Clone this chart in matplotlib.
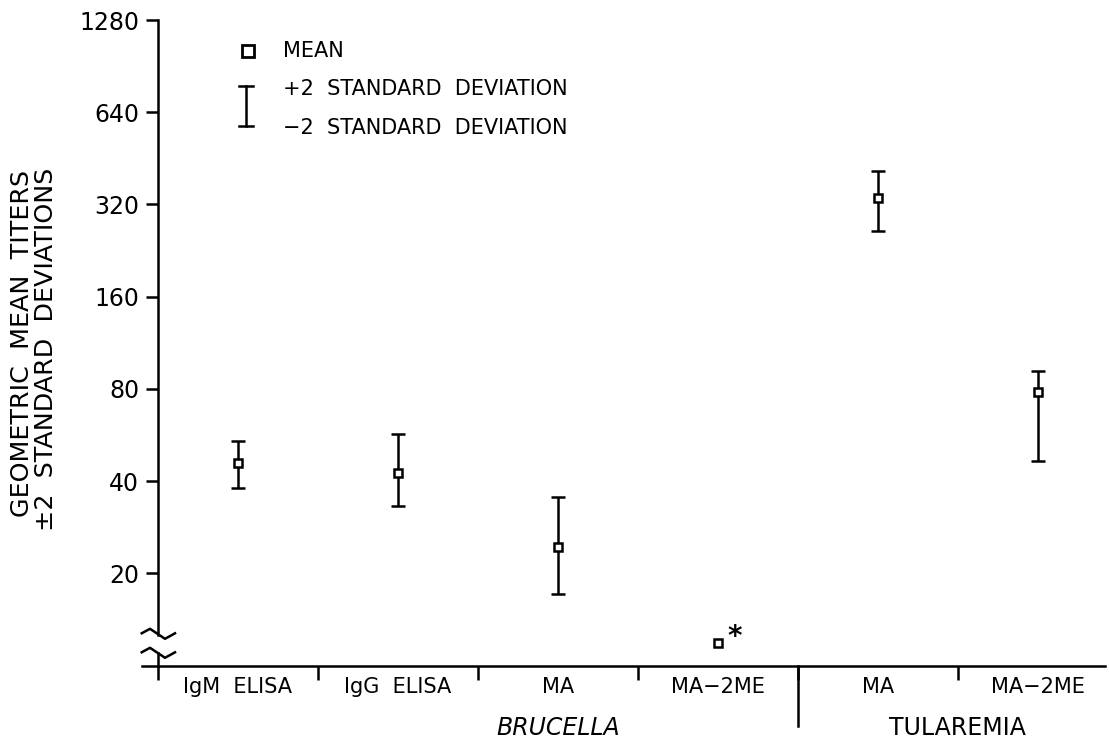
import numpy as np
import matplotlib
matplotlib.use("Agg")
import matplotlib.pyplot as plt
import matplotlib.transforms as mtransforms
from matplotlib.lines import Line2D

# данные (титры, логарифмическая шкала по основанию 2)
categories = ["IgM  ELISA", "IgG  ELISA", "MA", "MA\u22122ME", "MA", "MA\u22122ME"]
means = [45.9, 42.7, 24.4, 11.9, 335.7, 78.0]
upper = [54.2, 57.0, 35.5, np.nan, 413.0, 91.4]
lower = [38.0, 33.1, 17.1, np.nan, 262.6, 46.5]
yticks = [20, 40, 80, 160, 320, 640, 1280]
groups = ["BRUCELLA", "TULAREMIA"]
group_pos = [2.0, 4.5]

W, H = 1109, 742
LW = 1.8
fig = plt.figure(figsize=(W / 100, H / 100), dpi=100)
ax = fig.add_axes([141.7 / W, 1 - 665.7 / H, (1105 - 141.7) / W, (665.7 - 20) / H])

def fx(px):
    return px / W

def fy(py):
    return 1 - py / H

x = np.arange(len(categories))
m = np.array(means)
up = np.array(upper)
lo = np.array(lower)

ok = ~np.isnan(up)
ax.errorbar(x[ok], m[ok], yerr=[m[ok] - lo[ok], up[ok] - m[ok]], fmt="none",
            ecolor="black", elinewidth=LW, capsize=5, capthick=LW, zorder=2)
ax.plot(x, m, "s", ms=6, mfc="white", mec="black", mew=LW, zorder=3, clip_on=False)
# звездочка у MA-2ME (ниже 20)
ax.annotate("*", (x[3], m[3]), xytext=(7, 4), textcoords="offset points",
            fontsize=20, fontweight="bold", ha="left", va="center")

ax.set_yscale("log", base=2)
ax.set_ylim(10, 1280)
ax.set_xlim(-0.602, 5.422)
ax.set_yticks(yticks)
ax.set_yticklabels([str(v) for v in yticks])
ax.yaxis.set_minor_locator(matplotlib.ticker.NullLocator())

ax.set_xticks(x)
ax.set_xticklabels(categories, fontsize=15)
ax.set_xticks(np.arange(-0.5, 5.0, 1.0), minor=True)
ax.tick_params(axis="x", which="major", length=0, pad=8)
ax.tick_params(axis="x", which="minor", length=10, width=LW, direction="out")
ax.tick_params(axis="y", which="major", length=8.5, width=LW, labelsize=17, pad=5)

for s in ["top", "right"]:
    ax.spines[s].set_visible(False)
ax.spines["left"].set_position(("data", -0.5))
ax.spines["left"].set_bounds(12.56, 1280)
ax.spines["left"].set_linewidth(LW)
ax.spines["bottom"].set_linewidth(LW)

# нижний кусок оси y после разрыва
ax.plot([-0.5, -0.5], [10, 10.98], color="black", lw=LW, clip_on=False)

# знаки разрыва оси
for base in (633.3, 652.3):
    xs = [141.7, 150, 165, 175]
    ys = [base, base - 4.5, base + 5.5, base]
    fig.add_artist(Line2D([fx(v) for v in xs], [fy(v) for v in ys], color="black", lw=LW))

# длинная риска между группами
trans = mtransforms.blended_transform_factory(ax.transData, ax.transAxes)
ax.plot([3.5, 3.5], [0, -60 / 645.7], color="black", lw=LW, transform=trans, clip_on=False)

ax.text(group_pos[0], -0.0965, groups[0], transform=trans, ha="center", va="center",
        fontsize=17, style="italic")
ax.text(group_pos[1], -0.0965, groups[1], transform=trans, ha="center", va="center",
        fontsize=17)

# подпись оси y
fig.text(fx(22), fy(170), "GEOMETRIC  MEAN  TITERS", rotation=90, ha="center", va="top", fontsize=18.3)
fig.text(fx(46), fy(168), "\u00b12  STANDARD  DEVIATIONS", rotation=90, ha="center", va="top", fontsize=18.3)

# легенда
fig.add_artist(Line2D([fx(248)], [fy(51)], marker="s", ms=8, mfc="white", mec="black", mew=2))
fig.add_artist(Line2D([fx(246), fx(246)], [fy(86), fy(126)], color="black", lw=LW))
fig.add_artist(Line2D([fx(239), fx(253)], [fy(86), fy(86)], color="black", lw=LW))
fig.add_artist(Line2D([fx(239), fx(253)], [fy(126), fy(126)], color="black", lw=LW))
fig.text(fx(283), fy(51), "MEAN", ha="left", va="center", fontsize=15)
fig.text(fx(283), fy(89), "+2  STANDARD  DEVIATION", ha="left", va="center", fontsize=15)
fig.text(fx(283), fy(128), "\u22122  STANDARD  DEVIATION", ha="left", va="center", fontsize=15)

fig.savefig("out.png", dpi=100)
